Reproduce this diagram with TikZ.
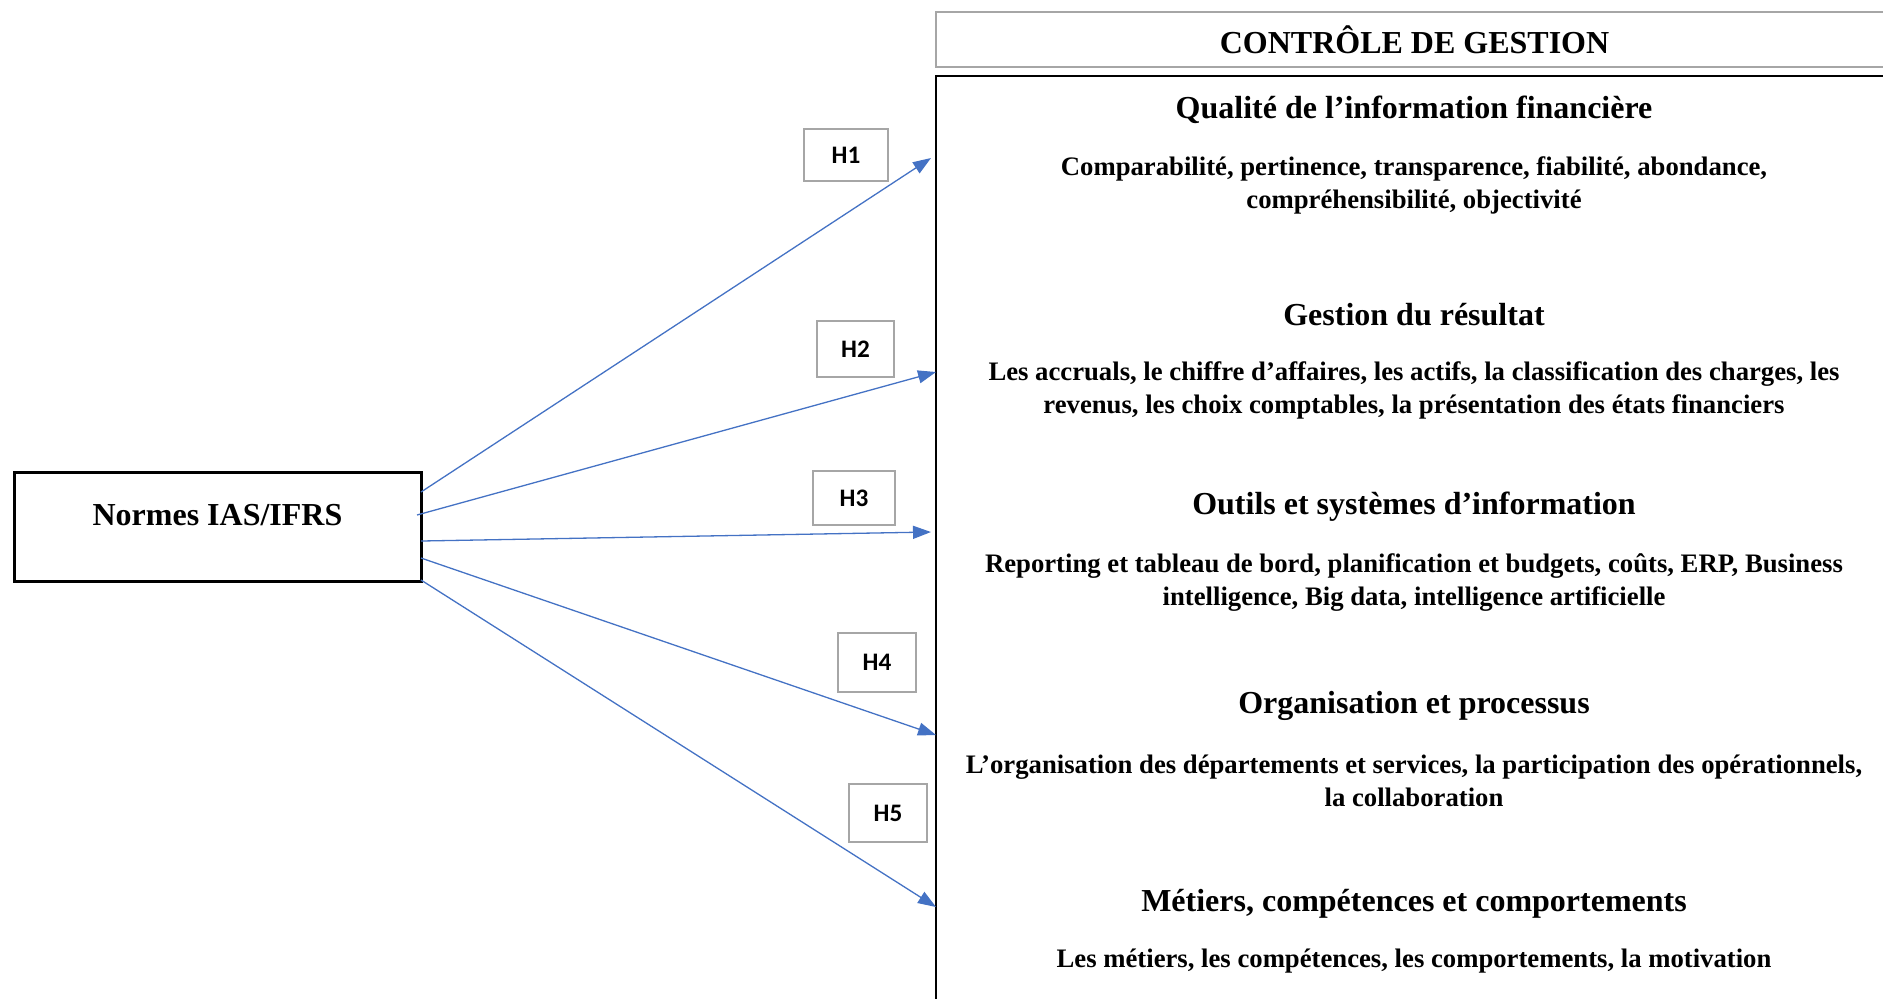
\documentclass[tikz,border=0pt]{standalone}
\usepackage{fontspec}
\setmainfont{Liberation Serif}
\newfontfamily\hfont{Carlito}
\usetikzlibrary{arrows.meta}
\definecolor{arrowblue}{HTML}{4472C4}
\definecolor{boxgray}{HTML}{A6A6A6}
\begin{document}
\begin{tikzpicture}[x=0.5pt,y=-0.5pt,
  hbox/.style={draw=boxgray, line width=1.1pt, minimum width=40pt, minimum height=28pt, inner sep=0pt,
    font=\hfont\bfseries\fontsize{12.6}{14}\selectfont},
  link/.style={draw=arrowblue, line width=0.65pt, -{Triangle[length=9pt,width=6.5pt]}},
  ttl/.style={font=\bfseries\fontsize{16}{19}\selectfont, inner sep=0pt},
  body/.style={font=\bfseries\fontsize{13.35}{16.5}\selectfont, align=center, inner sep=0pt}]
\useasboundingbox (0,0) rectangle (1883,998);
\clip (0,0) rectangle (1883,998);

% boxes
\node[draw=boxgray, line width=1.2pt, minimum width=478.5pt, minimum height=27.5pt, inner sep=0pt,
  font=\bfseries\fontsize{16}{19}\selectfont] (ctrl) at (1414.5,39.5) {CONTRÔLE DE GESTION};
\node[draw=black, line width=1.4pt, minimum width=478.5pt, minimum height=467pt, inner sep=0pt] (main) at (1414.5,543) {};

\node[draw=black, line width=1.5pt, minimum width=203.5pt, minimum height=54.5pt, inner sep=0pt,
  font=\bfseries\fontsize{16}{19}\selectfont, text height=10.6pt, text depth=11.5pt] (normes) at (217.5,526.5) {Normes IAS/IFRS};

% contents
\node[ttl] (t1) at (1414,110) {Qualité de l’information financière};
\node[body] (b1) at (1414,185) {Comparabilité, pertinence, transparence, fiabilité, abondance,\\ compréhensibilité, objectivité};
\node[ttl] (t2) at (1414,315) {Gestion du résultat};
\node[body] (b2) at (1414,390) {Les accruals, le chiffre d’affaires, les actifs, la classification des charges, les\\ revenus, les choix comptables, la présentation des états financiers};
\node[ttl] (t3) at (1414,507) {Outils et systèmes d’information};
\node[body] (b3) at (1414,582.5) {Reporting et tableau de bord, planification et budgets, coûts, ERP, Business\\ intelligence, Big data, intelligence artificielle};
\node[ttl] (t4) at (1414,706) {Organisation et processus};
\node[body] (b4) at (1414,780.5) {L’organisation des départements et services, la participation des opérationnels,\\ la collaboration};
\node[ttl] (t5) at (1414,904) {Métiers, compétences et comportements};
\node[body] (b5) at (1414,961) {Les métiers, les compétences, les comportements, la motivation};

% hypothesis labels
\node[hbox, minimum width=42pt, minimum height=26pt] (h1) at (846,155) {H1};
\node[hbox, minimum width=38.5pt] (h2) at (855.5,349) {H2};
\node[hbox, minimum width=41pt, minimum height=27pt] (h3) at (854,498) {H3};
\node[hbox, minimum width=39pt, minimum height=29.5pt] (h4) at (877,662.5) {H4};
\node[hbox, minimum width=39pt, minimum height=29pt] (h5) at (888,813) {H5};

% arrows
\coordinate (s1) at (421,492);
\coordinate (s2) at (417,515);
\coordinate (s3) at (421,541);
\coordinate (s4) at (421,558);
\coordinate (s5) at (421,580);
\coordinate (e1) at (931,158);
\coordinate (e2) at (936,372);
\coordinate (e3) at (931,532);
\coordinate (e4) at (936,735);
\coordinate (e5) at (936,907);
\draw[link] (s1) -- (e1);
\draw[link] (s2) -- (e2);
\draw[link] (s3) -- (e3);
\draw[link] (s4) -- (e4);
\draw[link] (s5) -- (e5);
\end{tikzpicture}
\end{document}
